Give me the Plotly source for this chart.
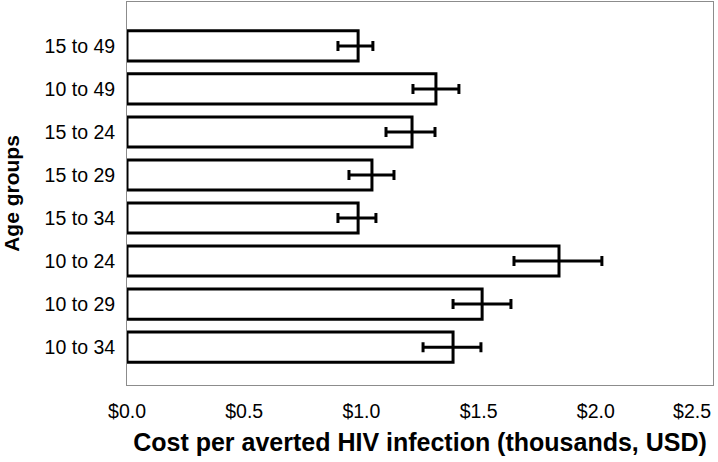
import plotly.graph_objects as go

categories = ["10 to 34", "10 to 29", "10 to 24", "15 to 34", "15 to 29", "15 to 24", "10 to 49", "15 to 49"]
values = [1.391, 1.515, 1.843, 0.986, 1.045, 1.216, 1.318, 0.986]
err_low = [1.263, 1.391, 1.651, 0.900, 0.947, 1.105, 1.220, 0.900]
err_high = [1.510, 1.638, 2.026, 1.062, 1.139, 1.314, 1.416, 1.049]
x_ticks = [0, 0.5, 1.0, 1.5, 2.0, 2.5]
x_tick_labels = ["$0.0", "$0.5", "$1.0", "$1.5", "$2.0", "$2.5"]
x_range = [0, 2.5]

plus = [h - v for h, v in zip(err_high, values)]
minus = [v - l for l, v in zip(err_low, values)]

fig = go.Figure()
fig.add_trace(go.Bar(
    y=categories, x=values, orientation="h",
    width=0.7,
    marker=dict(color="white", line=dict(color="black", width=3)),
    error_x=dict(type="data", array=plus, arrayminus=minus, symmetric=False,
                 color="black", thickness=3, width=5),
))
# empty helper trace so the overlay axis (last tick label, kept inside the figure) is drawn
fig.add_trace(go.Scatter(x=[], y=[], xaxis="x2", yaxis="y", showlegend=False, hoverinfo="skip"))

axis_common = dict(range=x_range, showgrid=False, zeroline=False, automargin=False,
                   ticks="", ticklen=0, ticklabelstandoff=9, tickfont=dict(size=19.5),
                   showline=True, linecolor="#8c8c8c", linewidth=1, mirror=True)

fig.update_layout(
    width=718, height=462,
    margin=dict(l=127, r=5, t=2, b=77),
    paper_bgcolor="white", plot_bgcolor="white",
    font=dict(family="Liberation Sans, Arial, sans-serif", color="black", size=19),
    showlegend=False,
    xaxis=dict(
        **axis_common,
        tickvals=x_ticks[:-1], ticktext=x_tick_labels[:-1],
        title=dict(text="<b>Cost per averted HIV infection (thousands, USD)</b>",
                   font=dict(size=25), standoff=12),
    ),
    xaxis2=dict(
        **axis_common,
        overlaying="x", side="bottom", anchor="y",
        tickvals=x_ticks[-1:], ticktext=x_tick_labels[-1:],
        ticklabelshift=-21,
    ),
    yaxis=dict(
        type="category", range=[-0.88, 8.02],
        showgrid=False, zeroline=False, automargin=False,
        showline=True, linecolor="#8c8c8c", linewidth=1, mirror=True,
        ticks="", ticklen=0, ticklabelstandoff=7,
        tickfont=dict(size=19.5),
        title=dict(text="<b>Age groups</b>", font=dict(size=21), standoff=22),
    ),
)

fig.write_html("out.html", config={"displayModeBar": False},
               post_script="document.body.style.margin='0';document.body.style.overflow='hidden';")
